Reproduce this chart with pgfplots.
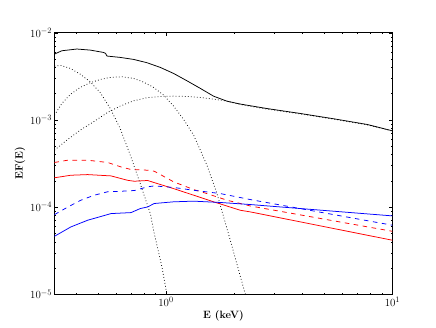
\documentclass[border=0pt]{standalone}
\usepackage{pgfplots}
\pgfplotsset{compat=1.18}
\begin{document}
\begin{tikzpicture}
\path[use as bounding box] (-72pt,-43.2pt) rectangle (504pt,388.8pt);
\begin{axis}[
  at={(0pt,0pt)}, anchor=south west,
  scale only axis, width=446.4pt, height=345.6pt,
  xmode=log, ymode=log,
  xmin=0.322, xmax=10, ymin=1e-5, ymax=1e-2,
  xtick={1,10}, ytick={1e-5,1e-4,1e-3,1e-2},
  minor xtick={0.4,0.5,0.6,0.7,0.8,0.9,2,3,4,5,6,7,8,9},
  minor ytick={2e-5,3e-5,4e-5,5e-5,6e-5,7e-5,8e-5,9e-5,
               2e-4,3e-4,4e-4,5e-4,6e-4,7e-4,8e-4,9e-4,
               2e-3,3e-3,4e-3,5e-3,6e-3,7e-3,8e-3,9e-3},
  tick align=inside, major tick length=4pt, minor tick length=2pt,
  every tick/.style={black, line width=0.5pt},
  axis line style={line width=1pt},
  tick label style={font=\fontsize{15.5}{18}\selectfont},
  label style={font=\fontsize{14}{17}\selectfont},
  xlabel={\textbf{E (keV)}}, ylabel={\textbf{EF(E)}},
  xlabel style={at={(axis description cs:0.5,-0.0828)}, anchor=center},
  ylabel style={at={(axis description cs:-0.1022,0.5)}, anchor=center},
  every axis plot/.append style={line width=1pt},
]
% total
\addplot[black] coordinates {
  (0.322,5.69e-3) (0.347,6.21e-3) (0.404,6.50e-3) (0.463,6.32e-3)
  (0.530,5.94e-3) (0.541,5.79e-3) (0.549,5.40e-3) (0.628,5.21e-3)
  (0.720,4.94e-3) (0.824,4.53e-3) (0.944,4.00e-3) (1.081,3.41e-3)
  (1.238,2.81e-3) (1.418,2.30e-3) (1.624,1.87e-3) (1.860,1.64e-3)
  (2.130,1.52e-3) (2.794,1.35e-3) (3.923,1.185e-3) (5.507,1.03e-3)
  (7.73,8.87e-4) (10,7.50e-4)
};
% soft component
\addplot[black, dash pattern=on 1pt off 3pt] coordinates {
  (0.322,4.15e-3) (0.345,4.20e-3) (0.378,3.90e-3) (0.418,3.35e-3)
  (0.463,2.74e-3) (0.513,2.05e-3) (0.568,1.35e-3) (0.628,7.97e-4)
  (0.696,3.94e-4) (0.770,1.86e-4) (0.853,8.43e-5) (0.888,4.97e-5)
  (0.960,2.06e-5) (1.010,1.0e-5) (1.03,8e-6)
};
% middle component
\addplot[black, dash pattern=on 1pt off 3pt] coordinates {
  (0.322,1.134e-3) (0.347,1.544e-3) (0.378,1.959e-3) (0.418,2.358e-3)
  (0.463,2.667e-3) (0.513,2.912e-3) (0.568,3.07e-3) (0.639,3.126e-3)
  (0.720,2.99e-3) (0.797,2.714e-3) (0.882,2.358e-3) (0.977,1.924e-3)
  (1.081,1.439e-3) (1.197,1.012e-3) (1.325,6.69e-4) (1.418,4.50e-4)
  (1.517,3.025e-4) (1.680,1.43e-4) (1.798,7.72e-5) (1.924,4.17e-5)
  (2.095,1.88e-5) (2.242,1.0e-5) (2.30,8e-6)
};
% hard component
\addplot[black, dash pattern=on 1pt off 3pt] coordinates {
  (0.322,4.50e-4) (0.365,5.86e-4) (0.418,7.63e-4) (0.479,9.51e-4)
  (0.549,1.206e-3) (0.628,1.44e-3) (0.720,1.657e-3) (0.824,1.794e-3)
  (0.944,1.858e-3) (1.081,1.875e-3) (1.238,1.858e-3) (1.418,1.81e-3)
  (1.624,1.73e-3) (1.860,1.64e-3) (2.130,1.50e-3) (2.794,1.33e-3)
  (3.923,1.17e-3) (5.507,1.02e-3) (7.73,8.8e-4) (10,7.45e-4)
};
% red dashed
\addplot[red, dash pattern=on 6pt off 6pt] coordinates {
  (0.322,3.25e-4) (0.368,3.45e-4) (0.451,3.45e-4) (0.553,3.25e-4)
  (0.633,2.89e-4) (0.701,2.70e-4) (0.830,2.65e-4) (0.888,2.58e-4)
  (1.081,1.95e-4) (1.325,1.59e-4) (1.517,1.43e-4) (1.860,1.20e-4)
  (2.359,1.03e-4) (10,5.28e-5)
};
% red solid
\addplot[red] coordinates {
  (0.322,2.17e-4) (0.380,2.32e-4) (0.451,2.36e-4) (0.572,2.28e-4)
  (0.677,2.03e-4) (0.725,1.98e-4) (0.830,2.02e-4) (0.888,1.91e-4)
  (1.081,1.63e-4) (1.325,1.37e-4) (1.624,1.15e-4) (2.130,9.20e-5)
  (2.359,8.81e-5) (10,4.17e-5)
};
% blue dashed
\addplot[blue, dash pattern=on 6pt off 6pt] coordinates {
  (0.322,8.2e-5) (0.368,1.0e-4) (0.421,1.2e-4) (0.483,1.37e-4)
  (0.553,1.50e-4) (0.633,1.52e-4) (0.725,1.55e-4) (0.830,1.71e-4)
  (0.888,1.75e-4) (1.081,1.68e-4) (1.325,1.56e-4) (1.739,1.43e-4)
  (2.359,1.22e-4) (10,6.2e-5)
};
% blue solid
\addplot[blue] coordinates {
  (0.322,4.63e-5) (0.380,5.92e-5) (0.451,7.07e-5) (0.572,8.43e-5)
  (0.701,8.65e-5) (0.770,9.62e-5) (0.830,1.005e-4) (0.888,1.10e-4)
  (1.081,1.15e-4) (1.325,1.17e-4) (1.739,1.13e-4) (2.359,1.07e-4)
  (10,7.93e-5)
};
\end{axis}
\end{tikzpicture}
\end{document}
